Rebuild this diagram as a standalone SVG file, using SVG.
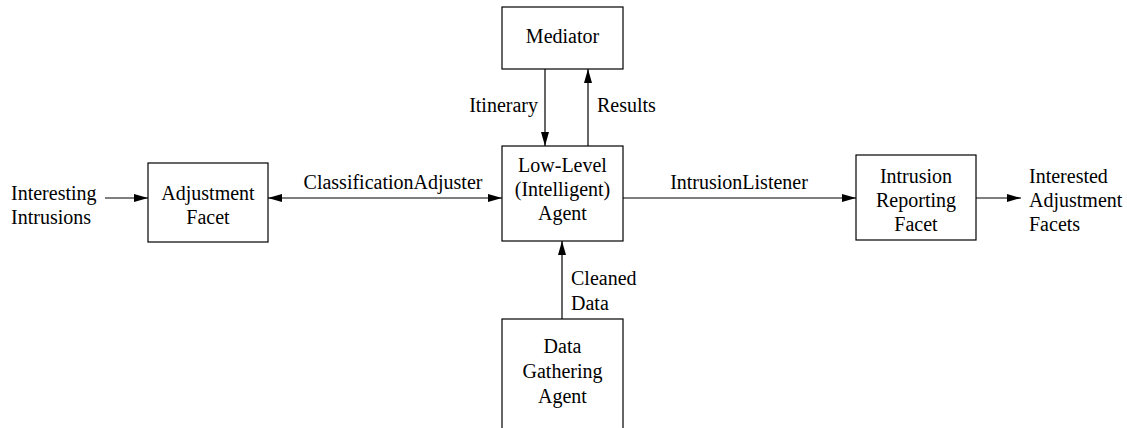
<svg xmlns="http://www.w3.org/2000/svg" width="1127" height="428" viewBox="0 0 1127 428">
<defs>
<marker id="ah" viewBox="0 0 14 8" refX="14" refY="4" markerWidth="14" markerHeight="8" markerUnits="userSpaceOnUse" orient="auto-start-reverse">
<path d="M0,0 L14,4 L0,8 Z" fill="#000"/>
</marker>
</defs>
<style>
.box{fill:#fff;stroke:#000;stroke-width:1.2}
text{font-family:"Liberation Serif","Times New Roman",serif;font-size:20px;fill:#000}
.c{text-anchor:middle}
.e{text-anchor:end}
line{stroke:#000;stroke-width:1.2}
</style>
<rect width="1127" height="428" fill="#fff"/>
<g id="connectors">
<line x1="105" y1="198" x2="148" y2="198" marker-end="url(#ah)"/>
<line x1="268" y1="198" x2="502" y2="198" marker-start="url(#ah)" marker-end="url(#ah)"/>
<line x1="623" y1="198" x2="856" y2="198" marker-end="url(#ah)"/>
<line x1="976" y1="198" x2="1021" y2="198" marker-end="url(#ah)"/>
<line x1="545" y1="69" x2="545" y2="146" marker-end="url(#ah)"/>
<line x1="588" y1="146" x2="588" y2="69" marker-end="url(#ah)"/>
<line x1="562" y1="319" x2="562" y2="241" marker-end="url(#ah)"/>
<text x="393" y="189" class="c">ClassificationAdjuster</text>
<text x="739" y="189" class="c">IntrusionListener</text>
<text x="538" y="112" class="e">Itinerary</text>
<text x="597" y="112">Results</text>
<text x="571" y="285">Cleaned</text>
<text x="571" y="310">Data</text>
</g>
<g id="interesting">
<text x="11" y="200">Interesting</text>
<text x="11" y="224">Intrusions</text>
</g>
<g id="adjustment">
<rect class="box" x="148" y="163" width="120" height="79"/>
<text x="208" y="200" class="c">Adjustment</text>
<text x="208" y="224" class="c">Facet</text>
</g>
<g id="mediator">
<rect class="box" x="502" y="7" width="121" height="62"/>
<text x="562.5" y="43" class="c">Mediator</text>
</g>
<g id="lowlevel">
<rect class="box" x="502" y="146" width="121" height="95"/>
<text x="562.5" y="172" class="c">Low-Level</text>
<text x="562.5" y="196" class="c">(Intelligent)</text>
<text x="562.5" y="220" class="c">Agent</text>
</g>
<g id="datagathering">
<rect class="box" x="502" y="319" width="121" height="120"/>
<text x="562.5" y="353" class="c">Data</text>
<text x="562.5" y="378" class="c">Gathering</text>
<text x="562.5" y="403" class="c">Agent</text>
</g>
<g id="intrusion">
<rect class="box" x="856" y="155" width="120" height="85"/>
<text x="916" y="183" class="c">Intrusion</text>
<text x="916" y="207" class="c">Reporting</text>
<text x="916" y="231" class="c">Facet</text>
</g>
<g id="interested">
<text x="1029" y="183">Interested</text>
<text x="1029" y="207">Adjustment</text>
<text x="1029" y="231">Facets</text>
</g>
</svg>
